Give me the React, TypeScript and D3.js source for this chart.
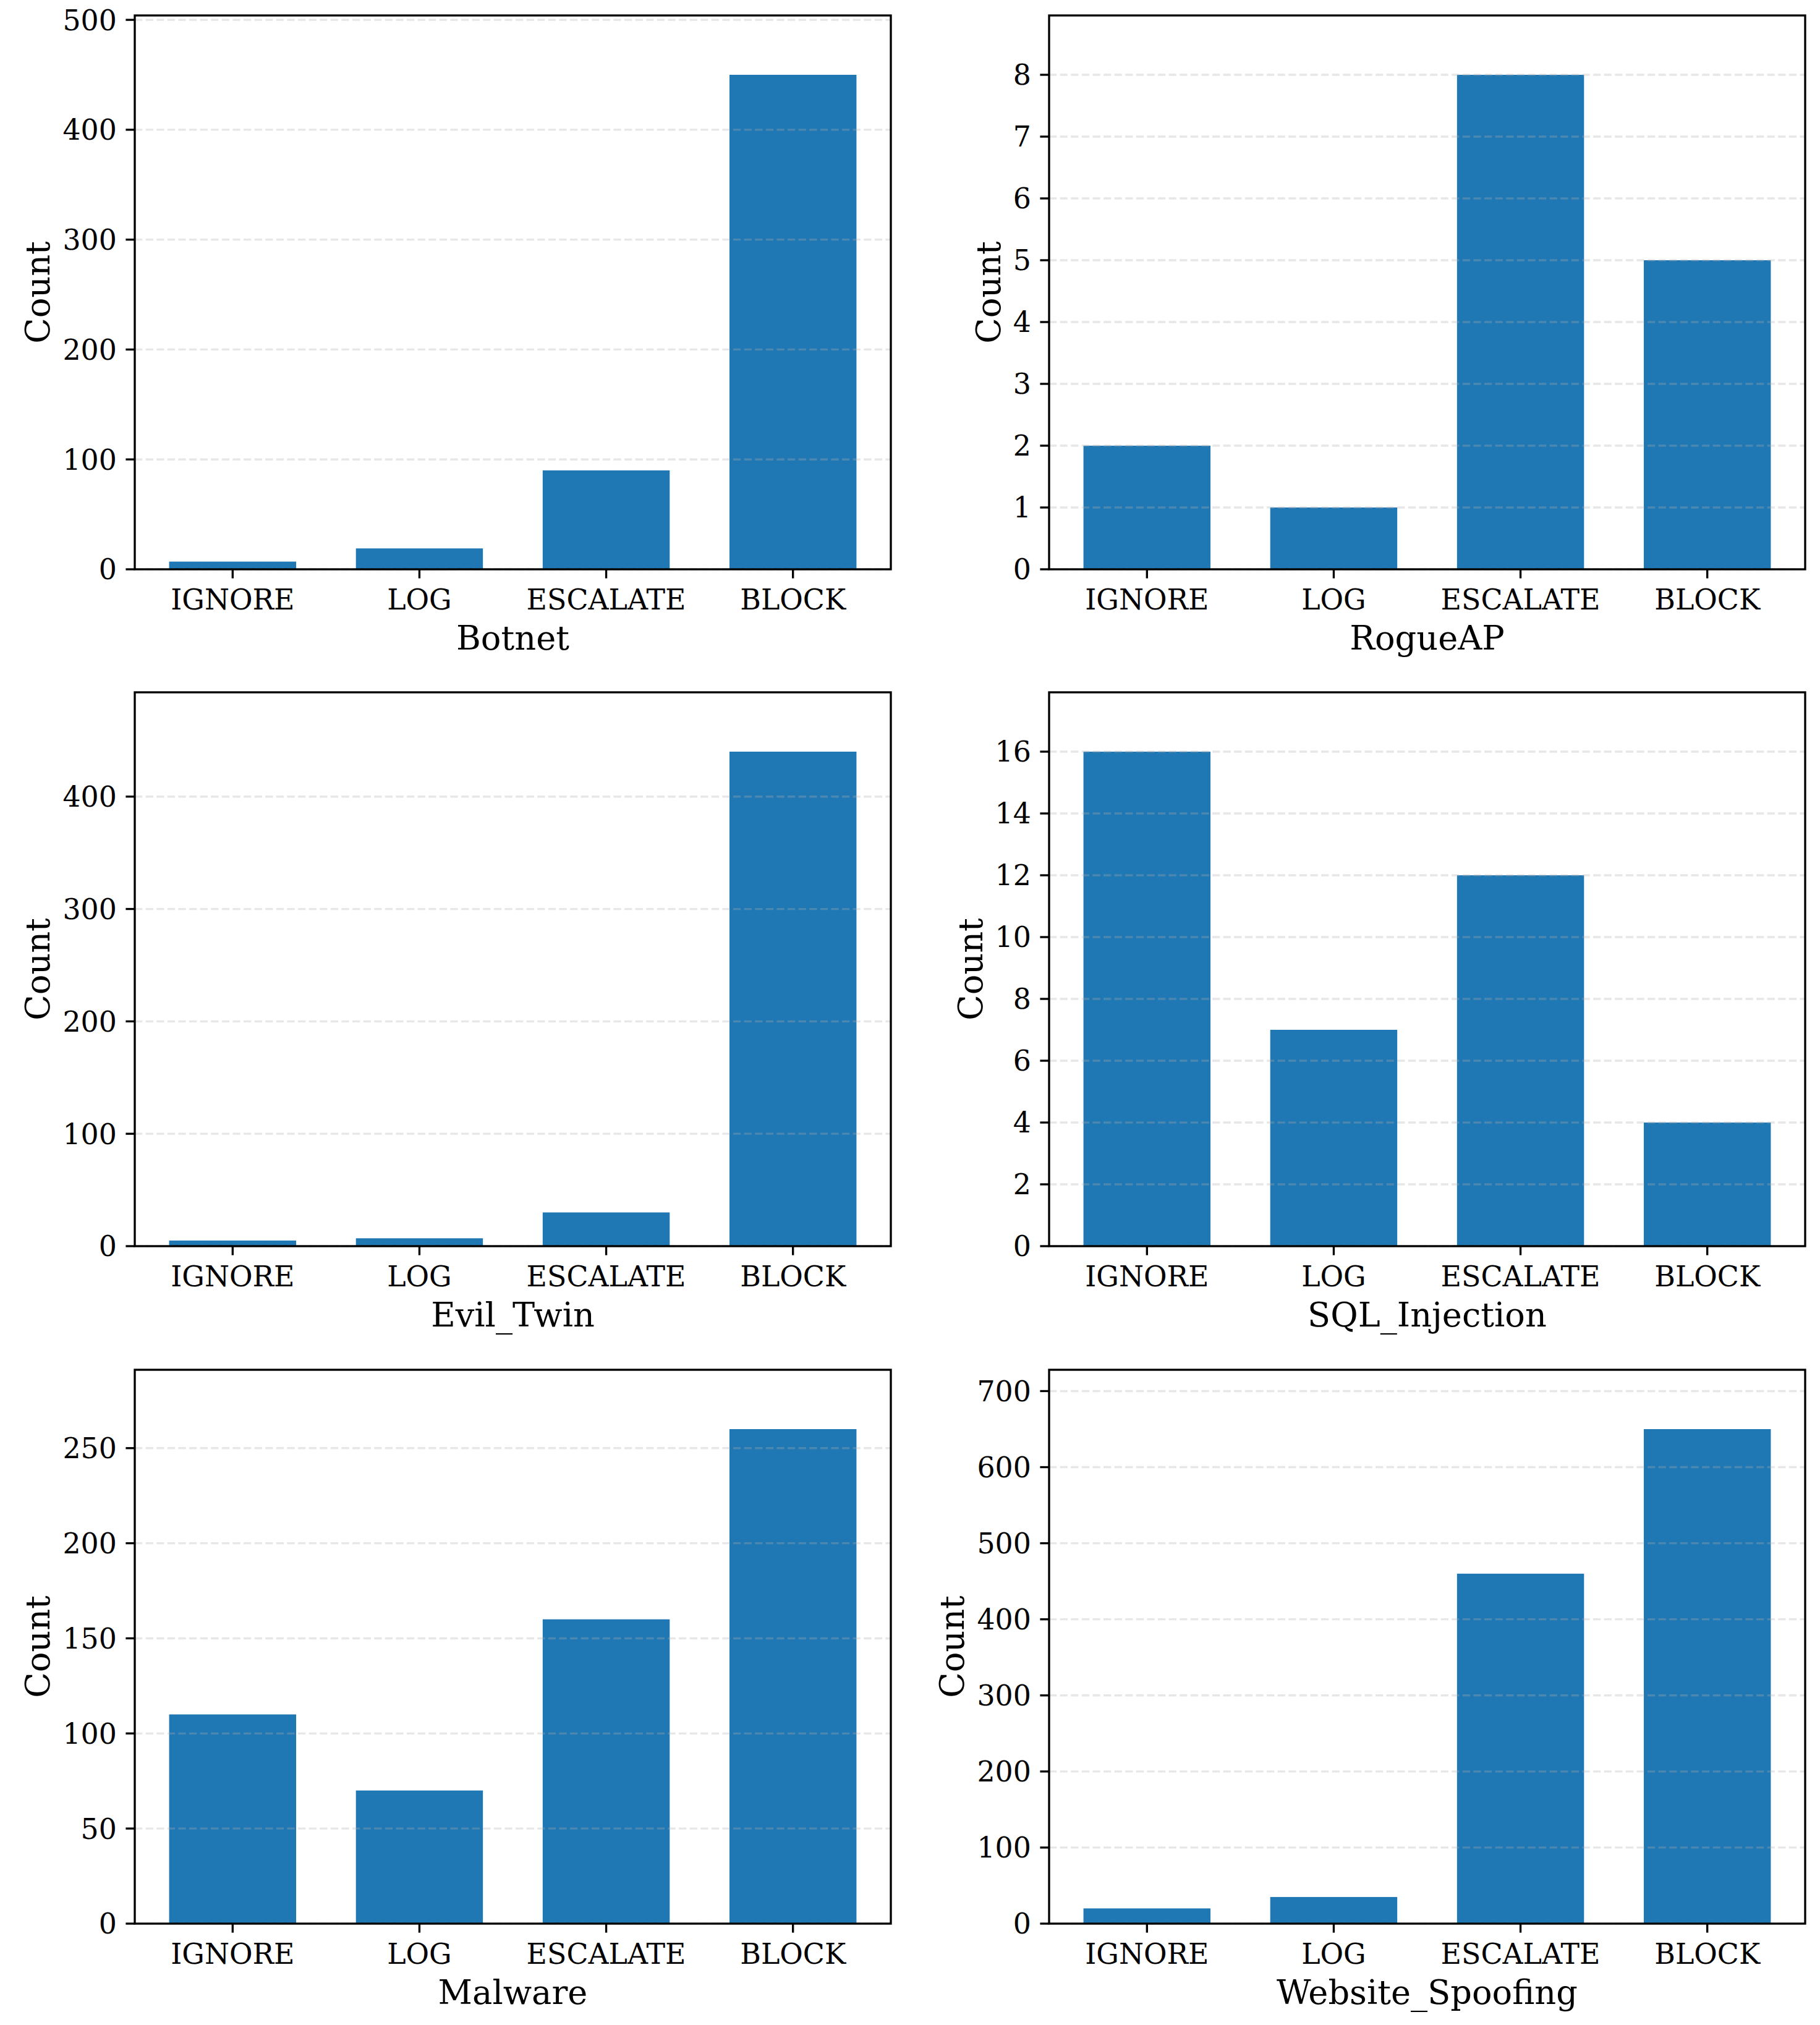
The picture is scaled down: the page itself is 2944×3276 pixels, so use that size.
import { useEffect, useRef } from "react";
import * as d3 from "d3";

const actions = ["IGNORE", "LOG", "ESCALATE", "BLOCK"];
const attackTypes = [
  "Botnet",
  "RogueAP",
  "Evil_Twin",
  "SQL_Injection",
  "Malware",
  "Website_Spoofing",
];

const botnetCounts = [7, 19, 90, 450];
const rogueApCounts = [2, 1, 8, 5];
const evilTwinCounts = [5, 7, 30, 440];
const sqlInjectionCounts = [16, 7, 12, 4];
const malwareCounts = [110, 70, 160, 260];
const websiteSpoofingCounts = [20, 35, 460, 650];

const tickSteps = [100, 1, 100, 2, 50, 100];

const allCounts = [
  botnetCounts,
  rogueApCounts,
  evilTwinCounts,
  sqlInjectionCounts,
  malwareCounts,
  websiteSpoofingCounts,
];

const BAR = "#1f77b4";
const GRID = "#b0b0b0";
const FONT = "'DejaVu Serif', serif";

const W = 2944;
const H = 3276;
const colX = [218, 1697];
const rowY = [25, 1120, 2216];
const panelW = 1223;
const panelH = 896;
const BAR_W = 0.68;

export default function App() {
  const ref = useRef<SVGSVGElement>(null);

  useEffect(() => {
    if (!ref.current) return;
    const svg = d3.select(ref.current);
    svg.selectAll("*").remove();

    attackTypes.forEach((name, i) => {
      const counts = allCounts[i];
      const left = colX[i % 2];
      const top = rowY[Math.floor(i / 2)];
      const bottom = top + panelH;
      const right = left + panelW;

      const margin = (actions.length - 1 + BAR_W) * 0.05;
      const x = d3
        .scaleLinear()
        .domain([-BAR_W / 2 - margin, actions.length - 1 + BAR_W / 2 + margin])
        .range([left, right]);
      const yMax = d3.max(counts)! * 1.12;
      const y = d3.scaleLinear().domain([0, yMax]).range([bottom, top]);
      const ticks = d3.range(0, yMax, tickSteps[i]);

      const g = svg.append("g");

      // Bars
      g.selectAll("rect.bar")
        .data(counts)
        .join("rect")
        .attr("class", "bar")
        .attr("x", (_, j) => x(j - BAR_W / 2))
        .attr("width", x(BAR_W) - x(0))
        .attr("y", (d) => y(d))
        .attr("height", (d) => bottom - y(d))
        .attr("fill", BAR);

      // Grid (y only, dashed, above bars like matplotlib default)
      g.selectAll("line.grid")
        .data(ticks)
        .join("line")
        .attr("class", "grid")
        .attr("x1", left)
        .attr("x2", right)
        .attr("y1", (d) => y(d))
        .attr("y2", (d) => y(d))
        .attr("stroke", GRID)
        .attr("stroke-opacity", 0.3)
        .attr("stroke-width", 3.33)
        .attr("stroke-dasharray", "12.3,5.3");

      // Spines
      g.append("rect")
        .attr("x", left)
        .attr("y", top)
        .attr("width", panelW)
        .attr("height", panelH)
        .attr("fill", "none")
        .attr("stroke", "#000")
        .attr("stroke-width", 3.33);

      // Y ticks
      g.selectAll("line.ytick")
        .data(ticks)
        .join("line")
        .attr("class", "ytick")
        .attr("x1", left - 14.6)
        .attr("x2", left)
        .attr("y1", (d) => y(d))
        .attr("y2", (d) => y(d))
        .attr("stroke", "#000")
        .attr("stroke-width", 3.33);

      const yLabels = g
        .selectAll("text.ylab")
        .data(ticks)
        .join("text")
        .attr("class", "ylab")
        .attr("x", left - 29.2)
        .attr("y", (d) => y(d))
        .attr("dy", "0.36em")
        .attr("text-anchor", "end")
        .attr("font-family", FONT)
        .attr("font-size", 45.8)
        .attr("fill", "#000")
        .text((d) => String(d));

      // X ticks
      g.selectAll("line.xtick")
        .data(actions)
        .join("line")
        .attr("class", "xtick")
        .attr("x1", (_, j) => x(j))
        .attr("x2", (_, j) => x(j))
        .attr("y1", bottom)
        .attr("y2", bottom + 14.6)
        .attr("stroke", "#000")
        .attr("stroke-width", 3.33);

      g.selectAll("text.xlab")
        .data(actions)
        .join("text")
        .attr("class", "xlab")
        .attr("x", (_, j) => x(j))
        .attr("y", bottom + 65)
        .attr("text-anchor", "middle")
        .attr("font-family", FONT)
        .attr("font-size", 45.8)
        .attr("fill", "#000")
        .text((d) => d);

      // X axis title
      g.append("text")
        .attr("x", (left + right) / 2)
        .attr("y", bottom + 130)
        .attr("text-anchor", "middle")
        .attr("font-family", FONT)
        .attr("font-size", 54.2)
        .attr("fill", "#000")
        .text(name);

      // Y axis title, placed left of the widest tick label
      let minX = left - 29.2;
      yLabels.each(function () {
        const b = (this as SVGTextElement).getBBox();
        minX = Math.min(minX, b.x);
      });
      const lx = minX - 21;
      const ly = (top + bottom) / 2;
      g.append("text")
        .attr("transform", `translate(${lx},${ly}) rotate(-90)`)
        .attr("text-anchor", "middle")
        .attr("font-family", FONT)
        .attr("font-size", 54.2)
        .attr("fill", "#000")
        .text("Count");
    });
  }, []);

  return (
    <svg
      ref={ref}
      width={W}
      height={H}
      style={{ position: "absolute", left: 0, top: 0, background: "#fff" }}
    />
  );
}
